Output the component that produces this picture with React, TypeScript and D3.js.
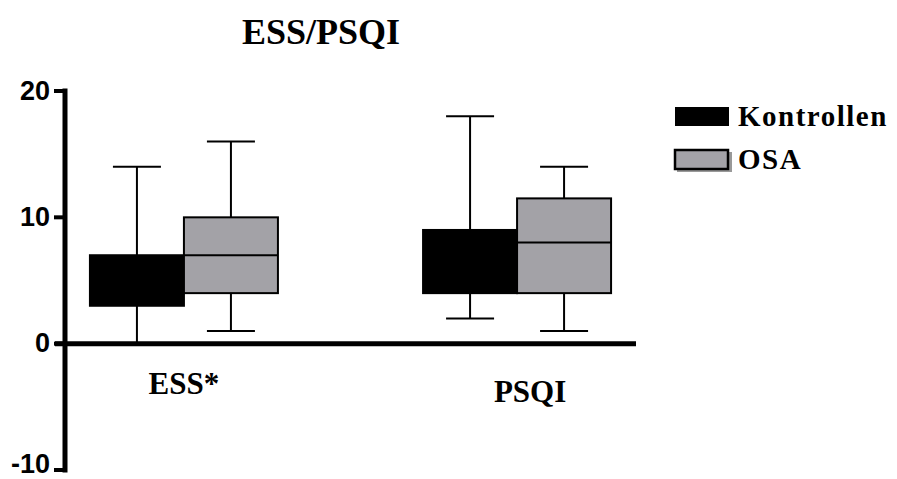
import React from "react";
import * as d3 from "d3";

const categories = ["ESS", "PSQI"];
const categoryLabels = ["ESS*", "PSQI"];
const seriesNames = ["Kontrollen", "OSA"];
const seriesColors = ["#000000", "#a3a2a7"];
// box stats per series, per category: [min, q1, median, q3, max]
const kontrollenStats = [
  [0, 3, 5, 7, 14],
  [2, 4, 6, 9, 18],
];
const osaStats = [
  [1, 4, 7, 10, 16],
  [1, 4, 8, 11.5, 14],
];
const yTicks = [-10, 0, 10, 20];

const W = 897;
const H = 479;

export default function App() {
  const left = 65;
  const right = 636;
  const x = d3.scalePoint<string>().domain(categories).range([left, right]).padding(0.357);
  const inner = d3.scaleBand<string>().domain(seriesNames).range([-94, 94]).padding(0);
  const y = d3.scaleLinear().domain([-10, 20]).range([470, 91]);
  const allStats = [kontrollenStats, osaStats];
  const labelDx = [0, 13];
  const tickFont = 27;

  return (
    <svg
      width={W}
      height={H}
      style={{ position: "fixed", top: 0, left: 0, background: "#fff" }}
    >
      <text
        x={321}
        y={44}
        textAnchor="middle"
        fontFamily="Liberation Serif, Times New Roman, serif"
        fontWeight="bold"
        fontSize={36}
      >
        ESS/PSQI
      </text>

      {/* boxes */}
      {seriesNames.map((s, si) =>
        categories.map((c, ci) => {
          const [mn, q1, md, q3, mx] = allStats[si][ci];
          const bx = (x(c) as number) + (inner(s) as number);
          const bw = inner.bandwidth();
          const cx = bx + bw / 2;
          const capHalf = 24;
          return (
            <g key={s + c}>
              <line x1={cx} x2={cx} y1={y(mx)} y2={y(q3)} stroke="#000" strokeWidth={2} />
              <line x1={cx} x2={cx} y1={y(q1)} y2={y(mn)} stroke="#000" strokeWidth={2} />
              {mx !== 0 && (
                <line x1={cx - capHalf} x2={cx + capHalf} y1={y(mx)} y2={y(mx)} stroke="#000" strokeWidth={2} />
              )}
              {mn !== 0 && (
                <line x1={cx - capHalf} x2={cx + capHalf} y1={y(mn)} y2={y(mn)} stroke="#000" strokeWidth={2} />
              )}
              <rect
                x={bx}
                y={y(q3)}
                width={bw}
                height={y(q1) - y(q3)}
                fill={seriesColors[si]}
                stroke="#000"
                strokeWidth={2}
              />
              <line x1={bx} x2={bx + bw} y1={y(md)} y2={y(md)} stroke="#000" strokeWidth={2} />
            </g>
          );
        })
      )}

      {/* x axis */}
      <line x1={55} x2={right} y1={y(0)} y2={y(0)} stroke="#000" strokeWidth={5} />
      {/* y axis */}
      <line x1={left} x2={left} y1={y(-10) + 2.5} y2={y(20) - 2.5} stroke="#000" strokeWidth={5} />
      {yTicks.map((t) => (
        <g key={t}>
          <line x1={54} x2={left} y1={y(t)} y2={y(t)} stroke="#000" strokeWidth={4} />
          <text
            x={50}
            y={Math.min(y(t) + 0.32 * tickFont, H - 0.22 * tickFont)}
            textAnchor="end"
            fontFamily="Liberation Sans, Arial, sans-serif"
            fontWeight="bold"
            fontSize={tickFont}
          >
            {t}
          </text>
        </g>
      ))}

      {categories.map((c, i) => (
        <text
          key={c}
          x={(x(c) as number) + labelDx[i]}
          y={i === 0 ? 394 : 402}
          textAnchor="middle"
          fontFamily="Liberation Serif, Times New Roman, serif"
          fontWeight="bold"
          fontSize={31}
        >
          {categoryLabels[i]}
        </text>
      ))}

      {/* legend */}
      {seriesNames.map((s, i) => {
        const ly = 107 + i * 43;
        return (
          <g key={s}>
            {i === 1 && <rect x={677} y={ly + 2} width={55} height={20} fill="#999" />}
            <rect
              x={675}
              y={ly}
              width={i === 0 ? 54 : 53}
              height={19}
              fill={seriesColors[i]}
              stroke="#000"
              strokeWidth={i === 0 ? 0 : 2.5}
            />
            <text
              x={738}
              y={ly + 19}
              fontFamily="Liberation Serif, Times New Roman, serif"
              fontWeight="bold"
              fontSize={29}
              letterSpacing={1.5}
            >
              {s}
            </text>
          </g>
        );
      })}
    </svg>
  );
}
